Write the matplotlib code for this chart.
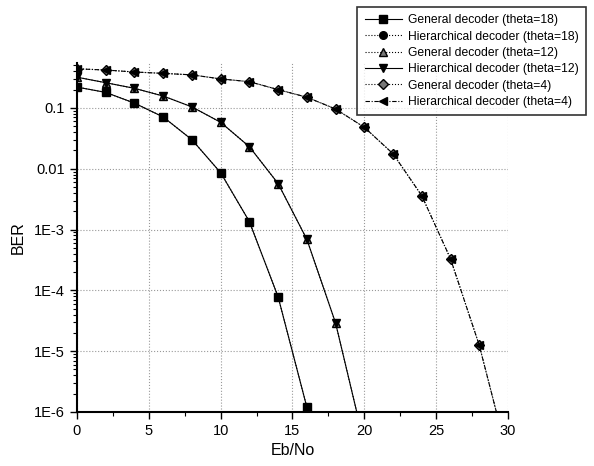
import matplotlib
matplotlib.use("Agg")
import matplotlib.pyplot as plt
import numpy as np
from matplotlib.ticker import FixedLocator, FixedFormatter, LogLocator, MultipleLocator, NullFormatter

plt.rcParams['font.family'] = ['Liberation Sans', 'DejaVu Sans']

ebno_18 = [0, 2, 4, 6, 8, 10, 12, 14, 16]
ber_18 = [0.22, 0.18, 0.12, 0.071, 0.030, 0.0086, 0.00135, 7.8e-5, 1.2e-6]

ebno_12 = [0, 2, 4, 6, 8, 10, 12, 14, 16, 18, 20]
ber_12 = [0.32, 0.26, 0.21, 0.157, 0.104, 0.058, 0.023, 0.0057, 6.9e-4, 2.9e-5, 3e-7]

ebno_4 = [0, 2, 4, 6, 8, 10, 12, 14, 16, 18, 20, 22, 24, 26, 28, 30]
ber_4 = [0.44, 0.42, 0.39, 0.37, 0.35, 0.30, 0.27, 0.20, 0.15, 0.096, 0.048, 0.0176,
         0.0036, 3.3e-4, 1.25e-5, 1.8e-7]

labels = ["General decoder (theta=18)", "Hierarchical decoder (theta=18)",
          "General decoder (theta=12)", "Hierarchical decoder (theta=12)",
          "General decoder (theta=4)", "Hierarchical decoder (theta=4)"]

y_ticks = [1e-6, 1e-5, 1e-4, 1e-3, 1e-2, 1e-1]
y_ticklabels = ["1E-6", "1E-5", "1E-4", "1E-3", "0.01", "0.1"]

fig = plt.figure(figsize=(5.94, 4.66), dpi=100)
ax = fig.add_axes([0.1296, 0.116, 0.7256, 0.749])

lw = 0.8
ms = 5.5
h = []
h += ax.plot(ebno_18, ber_18, '-', color='black', lw=lw, marker='s', ms=ms, mfc='black', mec='black', zorder=3)
h += ax.plot(ebno_18, ber_18, ':', color='black', lw=lw, marker='o', ms=ms, mfc='black', mec='black', zorder=2)
h += ax.plot(ebno_12, ber_12, ':', color='black', lw=lw, marker='^', ms=ms, mfc='#777777', mec='black', zorder=2)
h += ax.plot(ebno_12, ber_12, '-', color='black', lw=lw, marker='v', ms=ms + 0.5, mfc='black', mec='black', zorder=3)
h += ax.plot(ebno_4, ber_4, ':', color='black', lw=lw, marker='D', ms=ms - 0.5, mfc='#777777', mec='black', zorder=2)
h += ax.plot(ebno_4, ber_4, linestyle=(0, (4, 1.5, 1, 1.5)), color='black', lw=lw, marker='<', ms=ms + 0.5, mfc='black', mec='black', zorder=3)

ax.set_yscale('log')
ax.set_xlim(0, 30)
ax.set_ylim(1e-6, 0.55)
ax.xaxis.set_major_locator(MultipleLocator(5))
ax.xaxis.set_minor_locator(MultipleLocator(2.5))
ax.yaxis.set_major_locator(FixedLocator(y_ticks))
ax.yaxis.set_major_formatter(FixedFormatter(y_ticklabels))
ax.yaxis.set_minor_locator(LogLocator(base=10, subs=np.arange(2, 10)))
ax.yaxis.set_minor_formatter(NullFormatter())

ax.grid(True, which='major', linestyle=':', color='#999999', lw=0.8)
ax.spines['top'].set_visible(False)
ax.spines['right'].set_visible(False)
ax.spines['left'].set_linewidth(1.5)
ax.spines['bottom'].set_linewidth(1.5)
ax.tick_params(which='major', direction='out', length=5, width=1, labelsize=10.5)
ax.tick_params(which='minor', direction='out', length=3, width=0.8)

ax.set_xlabel("Eb/No", fontsize=11.5, labelpad=4)
ax.set_ylabel("BER", fontsize=11.5, labelpad=6)

leg = fig.legend(h, labels, loc='upper right', bbox_to_anchor=(0.997, 0.998),
                 fontsize=8.7, frameon=True, fancybox=False, edgecolor='black',
                 handlelength=3.1, labelspacing=0.36, borderpad=0.6, handletextpad=0.5)
leg.get_frame().set_linewidth(1.2)

fig.savefig("out.png", dpi=100)
